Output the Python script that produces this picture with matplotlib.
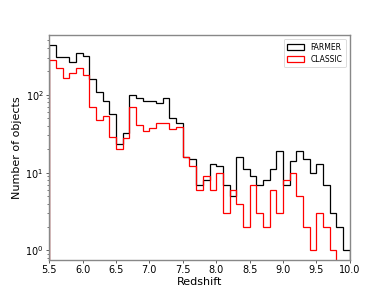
import numpy as np
import matplotlib
matplotlib.use('Agg')
import matplotlib.pyplot as plt

# Redshift bins (width 0.1 from 5.5 to 10.0)
edges = np.round(np.arange(5.5, 10.0001, 0.1), 2)

farmer = [431, 305, 305, 264, 347, 312, 161, 109, 83, 56,
          23, 32, 100, 92, 83, 83, 79, 92, 51, 44,
          16, 15, 7, 8, 13, 12, 7, 5, 16, 11,
          9, 7, 8, 11, 19, 7, 14, 19, 15, 10,
          13, 7, 3, 2, 1]
classic = [282, 221, 166, 190, 223, 181, 70, 48, 54, 29,
           20, 28, 69, 41, 34, 37, 43, 44, 36, 39,
           16, 12, 6, 9, 6, 10, 3, 6, 4, 2,
           7, 3, 2, 6, 3, 8, 10, 5, 2, 1,
           3, 2, 1, 0, 0]

centers = 0.5 * (edges[:-1] + edges[1:])

fig = plt.figure(figsize=(3.9, 2.93), dpi=100)
ax = fig.add_axes([0.126, 0.113, 0.771, 0.768])

ax.hist(centers, bins=edges, weights=farmer, histtype='step', color='black',
        lw=0.9, label='FARMER')
ax.hist(centers, bins=edges, weights=classic, histtype='step', color='red',
        lw=0.9, label='CLASSIC')

ax.set_yscale('log')
ax.set_xlim(5.5, 10.0)
ax.set_ylim(0.755, 590)
ax.set_xticks(np.arange(5.5, 10.01, 0.5))
ax.set_xlabel('Redshift', fontsize=8, labelpad=1)
ax.set_ylabel('Number of objects', fontsize=8, labelpad=2)
ax.tick_params(labelsize=7, length=2.5, width=0.6, pad=1.5, color='#444444')
ax.tick_params(which='minor', length=1.5, width=0.5, color='#444444')
for sp in ax.spines.values():
    sp.set_color('#888888')
    sp.set_linewidth(1.0)

leg = ax.legend(loc='upper right', fontsize=5.5, handlelength=2.2,
                borderpad=0.5, labelspacing=0.4, fancybox=True)
leg.get_frame().set_edgecolor('#cccccc')
leg.get_frame().set_linewidth(0.6)

fig.savefig('out.png', dpi=100)
